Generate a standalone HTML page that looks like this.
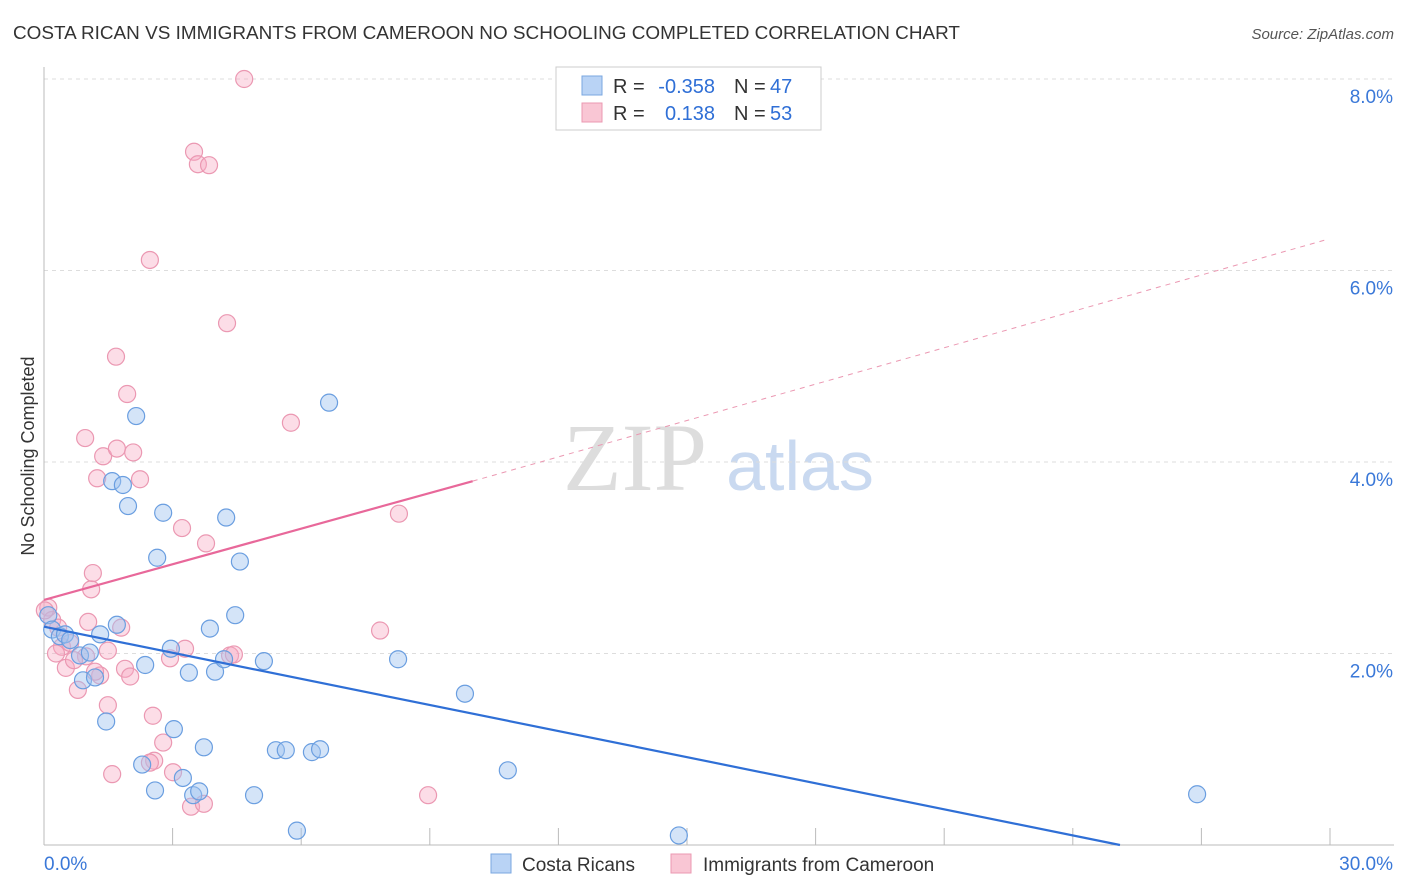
<!DOCTYPE html>
<html><head><meta charset="utf-8"><style>
body{margin:0;background:#fff;font-family:"Liberation Sans",sans-serif}
svg{display:block}
</style></head><body>
<svg id="chart" width="1406" height="892">
<text x="13" y="39" font-size="18" fill="#333" textLength="947" lengthAdjust="spacingAndGlyphs">COSTA RICAN VS IMMIGRANTS FROM CAMEROON NO SCHOOLING COMPLETED CORRELATION CHART</text>
<text x="1394" y="39" font-size="15" fill="#555" text-anchor="end" font-style="italic">Source: ZipAtlas.com</text>
<text x="34" y="456" font-size="18" fill="#333" text-anchor="middle" transform="rotate(-90 34 456)">No Schooling Completed</text>
<g><text x="635" y="490" font-size="96" font-family="Liberation Serif,serif" fill="#ddd" text-anchor="middle">ZIP</text><text x="800" y="490" font-size="70" fill="#c9d9f0" text-anchor="middle">atlas</text></g>
<g id="grid"></g><g id="marks"></g>
<g>
<rect x="556" y="67" width="265" height="63" fill="#fff" stroke="#ccc"/>
<rect x="582" y="76" width="20" height="19" fill="#b9d3f5" stroke="#7aa7e0"/>
<rect x="582" y="103" width="20" height="19" fill="#f9c6d4" stroke="#eb98b2"/>
<g font-size="20" fill="#333">
<text x="613" y="93">R =</text><text x="715" y="93" text-anchor="end" fill="#2f6fd6">-0.358</text><text x="734" y="93">N =</text><text x="770" y="93" fill="#2f6fd6">47</text>
<text x="613" y="120">R =</text><text x="715" y="120" text-anchor="end" fill="#2f6fd6">0.138</text><text x="734" y="120">N =</text><text x="770" y="120" fill="#2f6fd6">53</text>
</g>
</g>
<g>
<rect x="491" y="854" width="20" height="19" fill="#b9d3f5" stroke="#7aa7e0"/>
<text x="522" y="871" font-size="19" fill="#333">Costa Ricans</text>
<rect x="671" y="854" width="20" height="19" fill="#f9c6d4" stroke="#eb98b2"/>
<text x="703" y="871" font-size="19" fill="#333">Immigrants from Cameroon</text>
</g>
</svg>
<script>
const yTicks=[2,4,6,8];
const xTickLabels=["0.0%","30.0%"];
const blueX=[0.1,0.19,0.37,0.49,0.61,0.84,1.07,1.31,0.91,1.19,1.45,1.59,1.84,1.96,2.15,1.70,2.36,2.29,2.59,2.64,2.78,2.96,3.03,3.24,3.38,3.48,3.62,3.73,3.87,3.99,4.2,4.25,4.46,4.57,4.9,5.13,5.41,5.64,5.9,6.25,6.44,6.65,8.26,9.82,10.82,14.81,26.9];
const blueY=[2.4,2.25,2.18,2.2,2.14,1.98,2.01,2.2,1.72,1.75,1.29,3.8,3.76,3.54,4.48,2.3,1.88,0.84,0.57,3.0,3.47,2.05,1.21,0.7,1.8,0.52,0.56,1.02,2.26,1.81,1.94,3.42,2.4,2.96,0.52,1.92,0.99,0.99,0.15,0.97,1.0,4.62,1.94,1.58,0.78,0.1,0.53];
const pinkX=[0.1,0.19,0.33,0.42,0.51,0.61,0.79,0.98,1.03,1.1,1.14,0.96,1.24,1.31,1.38,1.49,1.49,1.59,1.68,1.70,1.80,1.89,1.94,2.01,2.08,2.24,2.47,2.54,2.57,2.47,2.78,2.94,3.01,3.22,3.29,3.43,3.5,3.59,3.73,3.85,3.78,4.27,4.34,4.43,4.67,5.76,7.84,8.28,8.96,0.7,1.19,0.28,0.02];
const pinkY=[2.48,2.35,2.27,2.07,1.85,2.11,1.62,1.97,2.33,2.67,2.84,4.25,3.83,1.77,4.06,2.03,1.46,0.74,5.1,4.14,2.27,1.84,4.71,1.76,4.1,3.82,6.11,1.35,0.88,0.86,1.07,1.95,0.76,3.31,2.05,0.4,7.24,7.11,0.43,7.1,3.15,5.45,1.98,1.99,8.0,4.41,2.24,3.46,0.52,1.93,1.81,2.0,2.45];
const blueTrend=[0,2.28,25.1,0];
const pinkTrend=[0,2.56,10.0,3.8,29.9,6.32];
const NS="http://www.w3.org/2000/svg";
const X0=44,X1=1330,Y0=845,YPX=95.75;
const sx=v=>X0+(X1-X0)*v/30, sy=v=>Y0-v*YPX;
const grid=document.getElementById('grid'),marks=document.getElementById('marks');
function mk(tag,attrs,parent){const e=document.createElementNS(NS,tag);for(const k in attrs)e.setAttribute(k,attrs[k]);parent.appendChild(e);return e;}
yTicks.forEach(t=>{
 const l=mk('line',{x1:X0,x2:1394,y1:sy(t),y2:sy(t),stroke:'#ddd','stroke-dasharray':'4,4'},grid);
 
 
 const tx=mk('text',{x:1393,y:sy(t)+24,'font-size':19,fill:'#3a78d8','text-anchor':'end'},grid);
 tx.textContent=t.toFixed(1)+'%';
 
 
});
const ax=mk('line',{x1:X0,x2:X0,y1:67,y2:Y0,stroke:'#bbb'},grid);


const bx=mk('line',{x1:X0,x2:1394,y1:Y0,y2:Y0,stroke:'#bbb'},grid);


for(let i=1;i<=10;i++){const t=mk('line',{x1:sx(i*3),x2:sx(i*3),y1:Y0,y2:Y0-17,stroke:'#bbb'},grid);
 
 }
xTickLabels.forEach((s,i)=>{const t=mk('text',{x:i?1393:44,y:870,'font-size':19,fill:'#3a78d8','text-anchor':i?'end':'start'},grid);t.textContent=s;
 
 });
pinkX.forEach((v,i)=>{const c=mk('circle',{cx:sx(v),cy:sy(pinkY[i]),r:8.5,fill:'rgba(247,170,194,0.4)',stroke:'#eb98b2','stroke-width':1.2},marks);
 
 });
blueX.forEach((v,i)=>{const c=mk('circle',{cx:sx(v),cy:sy(blueY[i]),r:8.5,fill:'rgba(160,195,240,0.45)',stroke:'#6a9ee0','stroke-width':1.2},marks);
 
 });
const bl=mk('line',{x1:sx(blueTrend[0]),y1:sy(blueTrend[1]),x2:sx(blueTrend[2]),y2:sy(blueTrend[3]),stroke:'#2f6fd6','stroke-width':2.2},marks);


const pl=mk('line',{x1:sx(pinkTrend[0]),y1:sy(pinkTrend[1]),x2:sx(pinkTrend[2]),y2:sy(pinkTrend[3]),stroke:'#e8689a','stroke-width':2.2},marks);


const pd=mk('line',{x1:sx(pinkTrend[2]),y1:sy(pinkTrend[3]),x2:sx(pinkTrend[4]),y2:sy(pinkTrend[5]),stroke:'#eb98b2','stroke-width':1,'stroke-dasharray':'5,5'},marks);


</script>
</body></html>
